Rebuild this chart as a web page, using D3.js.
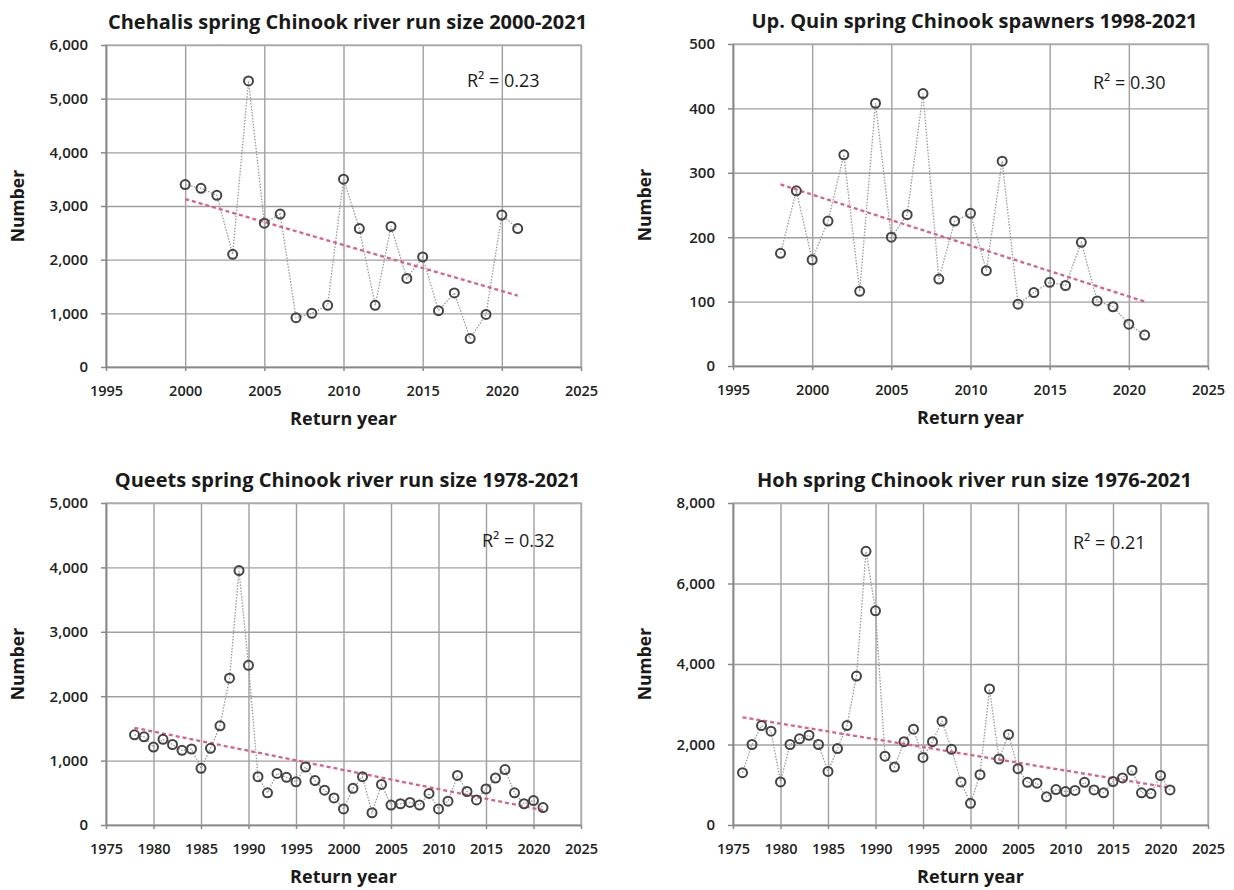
<!DOCTYPE html>
<html>
<head>
<meta charset="utf-8">
<script src="https://cdn.jsdelivr.net/npm/d3@7"></script>
<style>
  body { margin: 0; background: #fff; }
  svg { display: block; font-family: "Open Sans", "Noto Sans", sans-serif; }
</style>
</head>
<body>
<div id="chart"></div>
<script>
// Chehalis spring Chinook river run size
const chehalisYears = [2000, 2001, 2002, 2003, 2004, 2005, 2006, 2007, 2008, 2009, 2010,
  2011, 2012, 2013, 2014, 2015, 2016, 2017, 2018, 2019, 2020, 2021];
const chehalisCounts = [3400, 3330, 3200, 2100, 5330, 2680, 2850, 920, 1000, 1150, 3500,
  2580, 1150, 2620, 1650, 2050, 1050, 1380, 530, 980, 2830, 2580];
const chehalisTrend = [[2000, 3130], [2021, 1330]];

// Upper Quinault spring Chinook spawners
const quinYears = [1998, 1999, 2000, 2001, 2002, 2003, 2004, 2005, 2006, 2007, 2008, 2009,
  2010, 2011, 2012, 2013, 2014, 2015, 2016, 2017, 2018, 2019, 2020, 2021];
const quinCounts = [175, 272, 165, 225, 328, 116, 408, 200, 235, 423, 135, 225,
  237, 148, 318, 96, 114, 130, 125, 192, 101, 92, 65, 48];
const quinTrend = [[1998, 282], [2021, 100]];

// Queets spring Chinook river run size
const queetsYears = [1978, 1979, 1980, 1981, 1982, 1983, 1984, 1985, 1986, 1987, 1988, 1989,
  1990, 1991, 1992, 1993, 1994, 1995, 1996, 1997, 1998, 1999, 2000, 2001, 2002, 2003,
  2004, 2005, 2006, 2007, 2008, 2009, 2010, 2011, 2012, 2013, 2014, 2015, 2016, 2017,
  2018, 2019, 2020, 2021];
const queetsCounts = [1400, 1370, 1210, 1330, 1250, 1160, 1180, 880, 1190, 1540, 2280, 3950,
  2480, 750, 500, 800, 740, 670, 900, 690, 540, 420, 250, 570, 750, 190,
  630, 310, 330, 350, 310, 490, 250, 370, 770, 520, 390, 560, 730, 860,
  500, 330, 380, 270];
const queetsTrend = [[1978, 1510], [2021, 230]];

// Hoh spring Chinook river run size
const hohYears = [1976, 1977, 1978, 1979, 1980, 1981, 1982, 1983, 1984, 1985, 1986, 1987,
  1988, 1989, 1990, 1991, 1992, 1993, 1994, 1995, 1996, 1997, 1998, 1999, 2000, 2001,
  2002, 2003, 2004, 2005, 2006, 2007, 2008, 2009, 2010, 2011, 2012, 2013, 2014, 2015,
  2016, 2017, 2018, 2019, 2020, 2021];
const hohCounts = [1300, 2000, 2470, 2330, 1070, 2000, 2140, 2230, 2000, 1330, 1900, 2470,
  3700, 6800, 5320, 1710, 1440, 2070, 2380, 1680, 2070, 2580, 1880, 1070, 540, 1250,
  3380, 1640, 2250, 1400, 1060, 1040, 700, 880, 830, 860, 1060, 870, 800, 1080,
  1170, 1360, 800, 780, 1230, 870];
const hohTrend = [[1976, 2675], [2021, 925]];

// Axis ticks
const xTicksShort = [1995, 2000, 2005, 2010, 2015, 2020, 2025];
const xTicksLong = [1975, 1980, 1985, 1990, 1995, 2000, 2005, 2010, 2015, 2020, 2025];
const yTicksChehalis = [0, 1000, 2000, 3000, 4000, 5000, 6000];
const yTicksQuin = [0, 100, 200, 300, 400, 500];
const yTicksQueets = [0, 1000, 2000, 3000, 4000, 5000];
const yTicksHoh = [0, 2000, 4000, 6000, 8000];

const r2Labels = ["0.23", "0.30", "0.32", "0.21"];

const width = 1234, height = 890;

const svg = d3.select("#chart")
  .append("svg")
  .attr("width", width)
  .attr("height", height);

const panels = [
  { title: "Chehalis spring Chinook river run size 2000-2021",
    years: chehalisYears, counts: chehalisCounts, trend: chehalisTrend,
    xTicks: xTicksShort, yTicks: yTicksChehalis, r2: r2Labels[0],
    box: { left: 106, right: 581, top: 45, bottom: 367 }, r2Pos: [467, 80] },
  { title: "Up. Quin spring Chinook spawners 1998-2021",
    years: quinYears, counts: quinCounts, trend: quinTrend,
    xTicks: xTicksShort, yTicks: yTicksQuin, r2: r2Labels[1],
    box: { left: 733, right: 1208, top: 44, bottom: 366 }, r2Pos: [1093, 82] },
  { title: "Queets spring Chinook river run size 1978-2021",
    years: queetsYears, counts: queetsCounts, trend: queetsTrend,
    xTicks: xTicksLong, yTicks: yTicksQueets, r2: r2Labels[2],
    box: { left: 106, right: 581, top: 503, bottom: 825 }, r2Pos: [482, 540] },
  { title: "Hoh spring Chinook river run size 1976-2021",
    years: hohYears, counts: hohCounts, trend: hohTrend,
    xTicks: xTicksLong, yTicks: yTicksHoh, r2: r2Labels[3],
    box: { left: 733, right: 1208, top: 503, bottom: 825 }, r2Pos: [1073, 542] }
];

panels.forEach(p => drawPanel(p));

function drawPanel(p) {
  const b = p.box;
  const x = d3.scaleLinear()
    .domain(d3.extent(p.xTicks))
    .range([b.left, b.right]);
  const y = d3.scaleLinear()
    .domain(d3.extent(p.yTicks))
    .range([b.bottom, b.top]);

  const g = svg.append("g");

  // gridlines
  g.append("g")
    .attr("transform", `translate(0, ${b.bottom})`)
    .call(d3.axisBottom(x).tickValues(p.xTicks).tickSize(-(b.bottom - b.top)).tickFormat(""))
    .call(s => s.select(".domain").remove())
    .selectAll("line").attr("stroke", "#a0a0a0").attr("stroke-width", 1.4);

  g.append("g")
    .attr("transform", `translate(${b.left}, 0)`)
    .call(d3.axisLeft(y).tickValues(p.yTicks).tickSize(-(b.right - b.left)).tickFormat(""))
    .call(s => s.select(".domain").remove())
    .selectAll("line").attr("stroke", "#a0a0a0").attr("stroke-width", 1.4);

  // plot frame
  g.append("rect")
    .attr("x", b.left).attr("y", b.top)
    .attr("width", b.right - b.left).attr("height", b.bottom - b.top)
    .attr("fill", "none").attr("stroke", "#b0b0b0").attr("stroke-width", 1.4);

  // axes
  const xAxis = g.append("g")
    .attr("transform", `translate(0, ${b.bottom})`)
    .call(d3.axisBottom(x).tickValues(p.xTicks).tickFormat(d3.format("d")).tickSizeInner(4).tickSizeOuter(0).tickPadding(15));
  const yAxis = g.append("g")
    .attr("transform", `translate(${b.left}, 0)`)
    .call(d3.axisLeft(y).tickValues(p.yTicks).tickFormat(d3.format(",")).tickSizeInner(5).tickSizeOuter(0).tickPadding(13));

  [xAxis, yAxis].forEach(a => {
    a.select(".domain").attr("stroke", "#888").attr("stroke-width", 1.7);
    a.selectAll(".tick line").attr("stroke", "#888").attr("stroke-width", 1.5);
    a.selectAll(".tick text")
      .attr("fill", "#222")
      .attr("font-size", "15px")
      .attr("font-weight", 600)
      .attr("font-family", "'Open Sans', sans-serif");
  });
  xAxis.selectAll(".tick text").attr("font-size", "14.5px");

  // connecting dotted line
  const pts = p.years.map((yr, i) => [yr, p.counts[i]]);
  const line = d3.line().x(d => x(d[0])).y(d => y(d[1]));
  g.append("path")
    .datum(pts)
    .attr("d", line)
    .attr("fill", "none")
    .attr("stroke", "#999")
    .attr("stroke-width", 1.3)
    .attr("stroke-dasharray", "1.5,1.5");

  // trend line
  g.append("path")
    .datum(p.trend)
    .attr("d", line)
    .attr("fill", "none")
    .attr("stroke", "#e0607e")
    .attr("stroke-width", 2.3)
    .attr("stroke-dasharray", "4,3");

  // markers
  g.selectAll(".pt")
    .data(pts)
    .enter()
    .append("circle")
    .attr("class", "pt")
    .attr("cx", d => x(d[0]))
    .attr("cy", d => y(d[1]))
    .attr("r", 4.5)
    .attr("fill", "none")
    .attr("stroke", "#444")
    .attr("stroke-width", 2);

  // title
  g.append("text")
    .attr("x", (b.left + b.right) / 2 + 4)
    .attr("y", b.top - 16)
    .attr("text-anchor", "middle")
    .attr("font-size", "20px")
    .attr("font-weight", "bold")
    .attr("fill", "#1a1a1a")
    .text(p.title);

  // axis titles
  g.append("text")
    .attr("x", (b.left + b.right) / 2)
    .attr("y", b.bottom + 58)
    .attr("text-anchor", "middle")
    .attr("font-size", "18px")
    .attr("font-weight", "bold")
    .attr("fill", "#1a1a1a")
    .text("Return year");

  g.append("text")
    .attr("transform", `translate(${b.left - 82}, ${(b.top + b.bottom) / 2}) rotate(-90)`)
    .attr("text-anchor", "middle")
    .attr("font-size", "17.5px")
    .attr("font-weight", "bold")
    .attr("fill", "#1a1a1a")
    .text("Number");

  // R² label
  g.append("text")
    .attr("x", p.r2Pos[0])
    .attr("y", p.r2Pos[1] + 7)
    .attr("font-size", "18px")
    .attr("fill", "#1a1a1a")
    .text(`R² = ${p.r2}`);
}
</script>
</body>
</html>
